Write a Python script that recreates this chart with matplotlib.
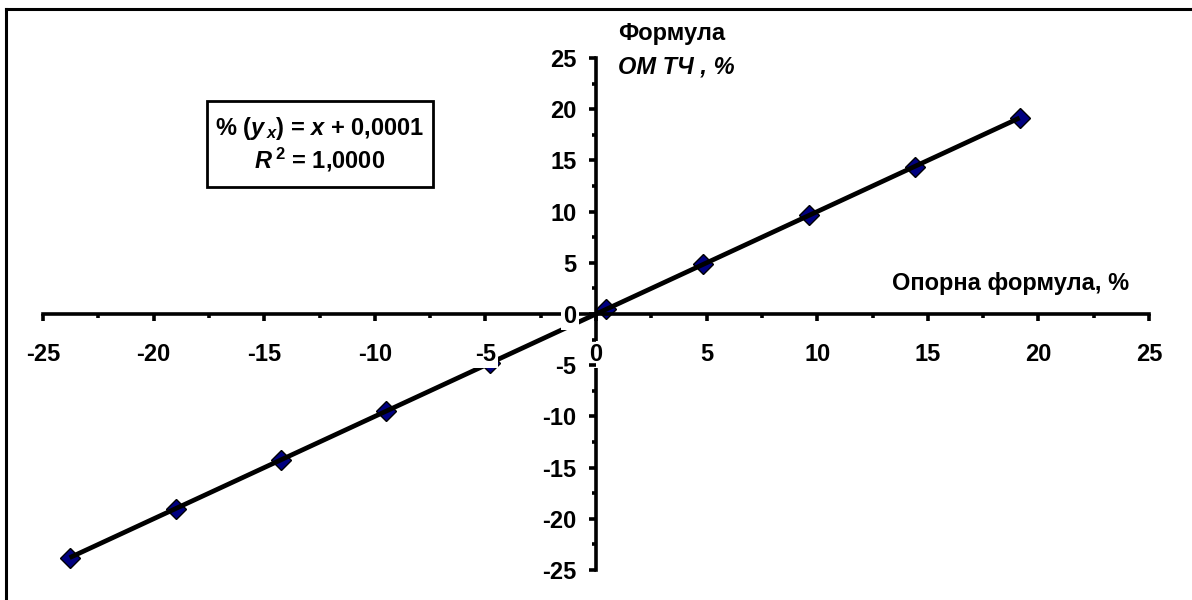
import numpy as np
import matplotlib
matplotlib.use("Agg")
import matplotlib.pyplot as plt
from matplotlib.lines import Line2D
from matplotlib.patches import Rectangle

plt.rcParams['font.family'] = ['Liberation Sans', 'DejaVu Sans']
plt.rcParams['font.weight'] = 'bold'
plt.rcParams['axes.unicode_minus'] = False
plt.rcParams['mathtext.fontset'] = 'custom'
plt.rcParams['mathtext.rm'] = 'Liberation Sans:bold'
plt.rcParams['mathtext.it'] = 'Liberation Sans:bold:italic'
plt.rcParams['mathtext.bf'] = 'Liberation Sans:bold'

# reference formula vs OMTCh formula, %
x_ref = [-23.8, -19.0, -14.25, -9.5, -4.8, 0.45, 4.85, 9.65, 14.4, 19.15]
y_omt = [-23.8, -19.0, -14.25, -9.5, -4.8, 0.45, 4.85, 9.65, 14.4, 19.15]
ticks = [-25, -20, -15, -10, -5, 0, 5, 10, 15, 20, 25]

fs = 17

fig = plt.figure(figsize=(11.92, 6), dpi=100)
ax = fig.add_axes([43 / 1192, 30 / 600, 1106 / 1192, 512 / 600])

# frame of the chart area (left and top edge only visible)
fig.add_artist(Line2D([6 / 1192, 6 / 1192], [0, 1 - 9 / 600], color='black', lw=2.2))
fig.add_artist(Line2D([6 / 1192, 1], [1 - 9 / 600, 1 - 9 / 600], color='black', lw=2.2))

ax.plot(x_ref, y_omt, linestyle='none', marker='D', markersize=10,
        markerfacecolor='#000080', markeredgecolor='black', markeredgewidth=1, zorder=2.1)

# linear trend
k, b = np.polyfit(x_ref, y_omt, 1)
xt = np.array([min(x_ref), max(x_ref)])
ax.plot(xt, k * xt + b, color='black', lw=3.4, solid_capstyle='butt', zorder=2.2)

ax.set_xlim(-25, 25)
ax.set_ylim(-25, 25)
ax.spines['left'].set_position(('data', 0))
ax.spines['bottom'].set_position(('data', 0))
ax.spines['top'].set_visible(False)
ax.spines['right'].set_visible(False)
for s in ['left', 'bottom']:
    ax.spines[s].set_linewidth(2.6)
    ax.spines[s].set_zorder(2.6)
ax.xaxis.set_zorder(3.5)
ax.yaxis.set_zorder(3.5)

ax.set_xticks(ticks)
ax.set_yticks(ticks)
ax.set_xticks(np.arange(-22.5, 25, 5), minor=True)
ax.set_yticks(np.arange(-22.5, 25, 5), minor=True)
ax.tick_params(which='major', direction='out', length=5, width=2.6, labelsize=fs)
ax.tick_params(which='minor', direction='out', length=3, width=2.6)
ax.tick_params(axis='x', pad=16)
ax.tick_params(axis='y', pad=9)
for lab in ax.get_xticklabels() + ax.get_yticklabels():
    lab.set_fontweight('bold')
    lab.set_bbox(dict(facecolor='white', edgecolor='none', pad=1.5))

ax.text(1.0, 27.4, 'Формула', fontsize=fs, fontweight='bold', ha='left', va='center')
ax.text(1.0, 24.1, 'ОМ ТЧ , %', fontsize=fs, fontweight='bold', style='italic',
        ha='left', va='center')
ax.text(13.4, 3.0, 'Опорна формула, %', fontsize=fs, fontweight='bold',
        ha='left', va='center')

# trend equation box
ax.add_patch(Rectangle((-17.59, 12.4), 10.22, 8.4, facecolor='white',
                       edgecolor='black', lw=2, zorder=4))
ax.text(-12.48, 18.07, '% ($y_{\\,x}$) = $x$ + 0,0001', fontsize=fs,
        fontweight='bold', ha='center', va='center', zorder=5)
ax.text(-12.48, 15.04, '$R^{\\,2}$ = 1,0000', fontsize=fs,
        fontweight='bold', ha='center', va='center', zorder=5)

fig.savefig('out.png', dpi=100)
